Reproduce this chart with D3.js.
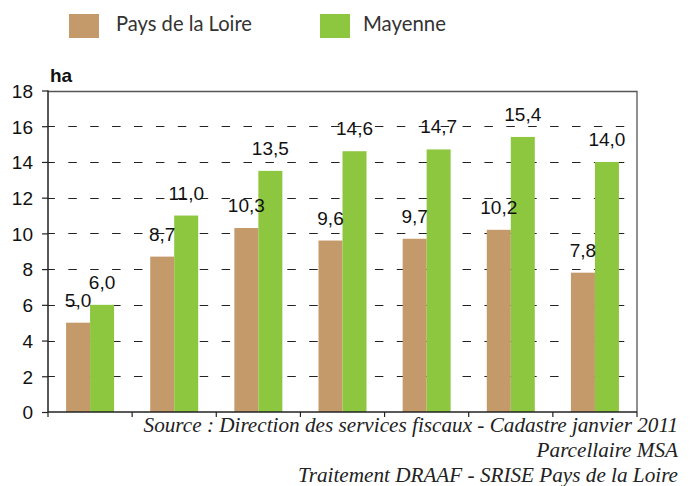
<!DOCTYPE html>
<html>
<head>
<meta charset="utf-8">
<script src="https://cdn.jsdelivr.net/npm/d3@7"></script>
<style>
  html, body { margin: 0; padding: 0; background: #fff; }
  svg { display: block; }
</style>
</head>
<body>
<svg id="chart" width="690" height="486"></svg>
<script>
const categories = ["c1", "c2", "c3", "c4", "c5", "c6", "c7"];
const seriesNames = ["Pays de la Loire", "Mayenne"];
const paysDeLaLoire = [5.0, 8.7, 10.3, 9.6, 9.7, 10.2, 7.8];
const mayenne = [6.0, 11.0, 13.5, 14.6, 14.7, 15.4, 14.0];
const yTicks = [0, 2, 4, 6, 8, 10, 12, 14, 16, 18];
const unitLabel = "ha";
const sourceLines = [
  "Source : Direction des services fiscaux - Cadastre janvier 2011",
  "Parcellaire MSA",
  "Traitement DRAAF - SRISE Pays de la Loire"
];

const colors = ["#C49A6A", "#8DC63F"];
const series = [paysDeLaLoire, mayenne];

const svg = d3.select("#chart");
const pLeft = 48, pRight = 637, pTop = 90.5, pBottom = 412;
const sansFont = "'Liberation Sans', Arial, sans-serif";

const x = d3.scaleBand().domain(categories).range([pLeft, pRight]).paddingInner(0).paddingOuter(0);
const inner = d3.scaleBand().domain(seriesNames).range([-24, 24]);
const y = d3.scaleLinear().domain([0, 18]).range([pBottom, pTop]);

// gridlines
svg.append("g").selectAll("line").data(yTicks.filter(d => d > 0 && d < 18)).join("line")
  .attr("x1", pLeft).attr("x2", pRight)
  .attr("y1", d => Math.round(y(d)) + 0.5).attr("y2", d => Math.round(y(d)) + 0.5)
  .attr("stroke", "#222").attr("stroke-width", 1)
  .attr("stroke-dasharray", "8.5,13.4").attr("stroke-dashoffset", 1.6);

// frame top and right
svg.append("path")
  .attr("d", `M${pLeft},${Math.round(pTop)+0.5}H${pRight}V${pBottom}`)
  .attr("fill", "none").attr("stroke", "#555").attr("stroke-width", 1.3);

// bars
const groups = svg.append("g").selectAll("g").data(categories).join("g")
  .attr("transform", d => `translate(${x(d) + x.bandwidth() / 2},0)`);

seriesNames.forEach((s, si) => {
  groups.append("rect")
    .attr("x", inner(s))
    .attr("width", inner.bandwidth())
    .attr("y", (d, i) => y(series[si][i]))
    .attr("height", (d, i) => y(0) - y(series[si][i]))
    .attr("fill", colors[si]);
});

// value labels
seriesNames.forEach((s, si) => {
  groups.append("text")
    .attr("x", inner(s) + inner.bandwidth() / 2)
    .attr("y", (d, i) => y(series[si][i]) - 16)
    .attr("text-anchor", "middle")
    .attr("font-family", sansFont)
    .attr("font-size", 19)
    .attr("fill", "#111")
    .text((d, i) => d3.format(".1f")(series[si][i]).replace(".", ","));
});

// y axis
const yAxis = svg.append("g").attr("transform", `translate(${pLeft},0)`)
  .call(d3.axisLeft(y).tickValues(yTicks).tickSize(6).tickPadding(9).tickFormat(d3.format("d")));
yAxis.select(".domain").attr("stroke", "#222").attr("stroke-width", 1.5).attr("d", `M0,${pBottom}V${pTop}`);
yAxis.selectAll(".tick line").attr("stroke", "#222").attr("stroke-width", 1.2);
yAxis.selectAll(".tick text").attr("font-family", sansFont)
  .attr("font-size", 19).attr("fill", "#111").attr("dy", "0.36em");

// x axis
const xAxis = svg.append("g").attr("transform", `translate(0,${pBottom})`);
xAxis.append("line").attr("x1", pLeft).attr("x2", pRight).attr("y1", 0).attr("y2", 0)
  .attr("stroke", "#222").attr("stroke-width", 1.5);
const boundaries = categories.map(c => x(c)).concat([pRight]);
xAxis.selectAll("line.tk").data(boundaries).join("line").attr("class", "tk")
  .attr("x1", d => d).attr("x2", d => d).attr("y1", 0).attr("y2", 5)
  .attr("stroke", "#222").attr("stroke-width", 1.2);

// unit label
svg.append("text").attr("x", 50).attr("y", 82)
  .attr("font-family", sansFont).attr("font-weight", "bold")
  .attr("font-size", 19).attr("fill", "#111").text(unitLabel);

// legend
const legendX = [69, 320];
const legendTextLen = [136, 83];
const leg = svg.append("g").selectAll("g").data(seriesNames).join("g")
  .attr("transform", (d, i) => `translate(${legendX[i]},0)`);
leg.append("rect").attr("x", 0).attr("y", 14).attr("width", 30).attr("height", 24)
  .attr("fill", (d, i) => colors[i]);
leg.append("text").attr("x", (d, i) => i === 0 ? 47 : 43).attr("y", 30.5)
  .attr("font-family", "Lato, 'Open Sans', sans-serif").attr("font-size", 20.5)
  .attr("fill", "#333")
  .attr("textLength", (d, i) => legendTextLen[i]).attr("lengthAdjust", "spacingAndGlyphs")
  .text(d => d);

// source
svg.append("g").selectAll("text").data(sourceLines).join("text")
  .attr("x", 678).attr("y", (d, i) => 432 + i * 25)
  .attr("text-anchor", "end")
  .attr("font-family", "'Liberation Serif', 'Times New Roman', serif")
  .attr("font-style", "italic").attr("font-size", 21.2).attr("fill", "#222")
  .text(d => d);
</script>
</body>
</html>
